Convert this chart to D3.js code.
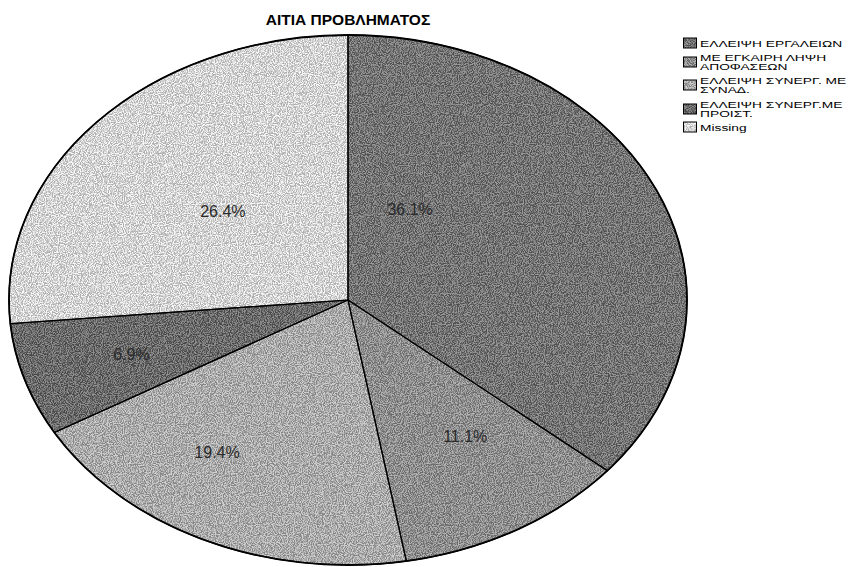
<!DOCTYPE html>
<html>
<head>
<meta charset="utf-8">
<script src="https://cdn.jsdelivr.net/npm/d3@7"></script>
<style>
  body { margin: 0; background: #fff; }
  svg { display: block; font-family: "Liberation Sans", Arial, sans-serif; }
</style>
</head>
<body>
<script>
"use strict";

// chart values
var categories = ["ΕΛΛΕΙΨΗ ΕΡΓΑΛΕΙΩΝ", "ΜΕ ΕΓΚΑΙΡΗ ΛΗΨΗ ΑΠΟΦΑΣΕΩΝ", "ΕΛΛΕΙΨΗ ΣΥΝΕΡΓ. ΜΕ ΣΥΝΑΔ.", "ΕΛΛΕΙΨΗ ΣΥΝΕΡΓ.ΜΕ ΠΡΟΙΣΤ.", "Missing"];
var legendLines = [["ΕΛΛΕΙΨΗ ΕΡΓΑΛΕΙΩΝ"], ["ΜΕ ΕΓΚΑΙΡΗ ΛΗΨΗ", "ΑΠΟΦΑΣΕΩΝ"], ["ΕΛΛΕΙΨΗ ΣΥΝΕΡΓ. ΜΕ", "ΣΥΝΑΔ."], ["ΕΛΛΕΙΨΗ ΣΥΝΕΡΓ.ΜΕ", "ΠΡΟΙΣΤ."], ["Missing"]];
var percents = [36.1, 11.1, 19.4, 6.9, 26.4];
// base greys, before the print grain is laid over them
var fills = ["#6f6f6f", "#949494", "#bdbdbd", "#626262", "#f8f8f8"];
var title = "ΑΙΤΙΑ ΠΡΟΒΛΗΜΑΤΟΣ";

// where each percent label sits: fraction of the radius, and turn (degrees) off the slice middle
var labelRadius = [0.39, 0.62, 0.69, 0.67, 0.5];
var labelTurn = [-37, -4, 9, 0, 0];

var width = 867, height = 567;
var cx = 348, cy = 300, rx = 339, ry = 265;

var svg = d3.select("body").append("svg")
	.attr("width", width)
	.attr("height", height);

// grainy print look (dithered greys)
var defs = svg.append("defs");
var grain = defs.append("filter").attr("id", "grain")
	.attr("x", 0).attr("y", 0).attr("width", 1).attr("height", 1)
	.attr("color-interpolation-filters", "sRGB");
grain.append("feTurbulence")
	.attr("type", "fractalNoise")
	.attr("baseFrequency", 1.1)
	.attr("numOctaves", 1)
	.attr("seed", 3)
	.attr("result", "noise");
grain.append("feColorMatrix")
	.attr("in", "noise")
	.attr("type", "matrix")
	.attr("values", "4 0 0 0 -1.5  4 0 0 0 -1.5  4 0 0 0 -1.5  0 0 0 0 0.3")
	.attr("result", "dots");
grain.append("feComposite")
	.attr("in", "dots")
	.attr("in2", "SourceGraphic")
	.attr("operator", "atop");

svg.append("text")
	.attr("x", cx)
	.attr("y", 25)
	.attr("text-anchor", "middle")
	.style("font-size", "15.5px")
	.style("font-weight", "bold")
	.text(title);

var pie = d3.pie().sort(null).value(function(d) { return d; });
var arcs = pie(percents);

var arc = d3.arc().innerRadius(0).outerRadius(ry);

// draw the pie as a circle and squash it into the ellipse
var pieG = svg.append("g")
	.attr("transform", "translate(" + cx + "," + cy + ") scale(" + (rx / ry) + ",1)");

pieG.selectAll("path.slice")
	.data(arcs)
	.enter().append("path")
	.attr("class", "slice")
	.attr("d", arc)
	.attr("fill", function(d, i) { return fills[i]; })
	.attr("filter", "url(#grain)");

pieG.selectAll("path.edge")
	.data(arcs)
	.enter().append("path")
	.attr("class", "edge")
	.attr("d", arc)
	.attr("fill", "none")
	.attr("stroke", "#000")
	.attr("stroke-width", 1.2)
	.attr("vector-effect", "non-scaling-stroke");

pieG.append("circle")
	.attr("r", ry)
	.attr("fill", "none")
	.attr("stroke", "#000")
	.attr("stroke-width", 1.8)
	.attr("vector-effect", "non-scaling-stroke");

function labelPos(d, i) {
	var a = (d.startAngle + d.endAngle) / 2 + labelTurn[i] * Math.PI / 180;
	var r = labelRadius[i];
	return [cx + Math.sin(a) * r * rx, cy - Math.cos(a) * r * ry];
}

svg.selectAll("text.pct")
	.data(arcs)
	.enter().append("text")
	.attr("class", "pct")
	.attr("x", function(d, i) { return labelPos(d, i)[0]; })
	.attr("y", function(d, i) { return labelPos(d, i)[1] + 6; })
	.attr("text-anchor", "middle")
	.style("font-size", "16px")
	.style("fill", "#2a2a2a")
	.text(function(d) { return d.data.toFixed(1) + "%"; });

// legend
var legend = svg.append("g").attr("transform", "translate(683,0)");
var rowTops = [39, 53, 76, 100, 123];
var lineH = 10;

legendLines.forEach(function(lines, i) {
	var top = rowTops[i];
	var mid = top + 4 + (lines.length - 1) * lineH / 2;
	legend.append("rect")
		.attr("x", 0.5)
		.attr("y", mid - 5)
		.attr("width", 13)
		.attr("height", 10)
		.attr("fill", fills[i])
		.attr("filter", "url(#grain)");
	legend.append("rect")
		.attr("x", 0.5)
		.attr("y", mid - 5)
		.attr("width", 13)
		.attr("height", 10)
		.attr("fill", "none")
		.attr("stroke", "#000")
		.attr("stroke-width", 1);
	var t = legend.append("text")
		.attr("transform", "translate(17," + (top + 7.5) + ") scale(1.45,1)")
		.style("font-size", "9.5px")
		.style("fill", "#000");
	lines.forEach(function(line, j) {
		t.append("tspan")
			.attr("x", 0)
			.attr("y", j * lineH)
			.text(line);
	});
});
</script>
</body>
</html>
